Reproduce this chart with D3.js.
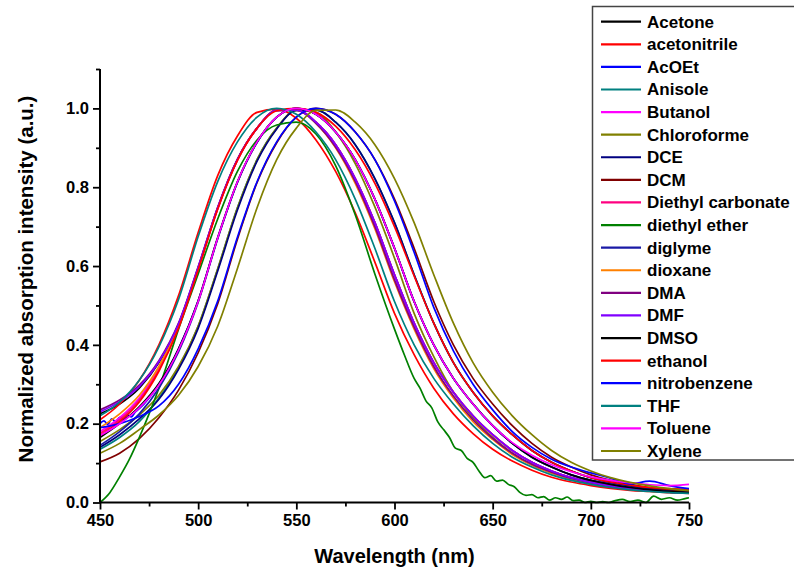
<!DOCTYPE html>
<html><head><meta charset="utf-8">
<script src="https://cdn.jsdelivr.net/npm/d3@7"></script>
<style>
html,body{margin:0;padding:0;background:#fff;}
svg{display:block;font-family:"Liberation Sans",Arial,sans-serif;font-weight:bold;}
</style></head>
<body><svg id="chart" width="794" height="573"></svg>
<script>
// ---------- data ----------
const wavelengths = [450,460,470,480,490,500,510,520,530,540,550,560,570,580,590,600,610,620,630,640,650,660,670,680,690,700,710,720,730,740,750];
const xTicks = [450,500,550,600,650,700,750];
const xMinorTicks = [475,525,575,625,675,725];
const yTicks = [0.0,0.2,0.4,0.6,0.8,1.0];
const yMinorTicks = [0.1,0.3,0.5,0.7,0.9,1.1];
const seriesNames = ["Acetone","acetonitrile","AcOEt","Anisole","Butanol","Chloroforme","DCE","DCM","Diethyl carbonate","diethyl ether","diglyme","dioxane","DMA","DMF","DMSO","ethanol","nitrobenzene","THF","Toluene","Xylene"];
const seriesColors = ["#000000","#FF0000","#0000FF","#008080","#FF00FF","#808000","#000080","#800000","#FF0080","#008000","#1A1AA6","#FF8000","#800080","#8000FF","#000000","#FF0000","#0000FF","#008080","#FF00FF","#808000"];

const acetone = [0.225,0.25,0.29,0.355,0.452,0.595,0.748,0.87,0.95,0.995,0.996,0.965,0.908,0.822,0.71,0.578,0.455,0.355,0.28,0.22,0.172,0.132,0.102,0.08,0.063,0.051,0.042,0.035,0.030,0.026,0.024];
const acetonitrile = [0.21,0.25,0.31,0.40,0.525,0.685,0.83,0.93,0.99,0.998,0.975,0.92,0.84,0.735,0.61,0.48,0.375,0.29,0.225,0.175,0.135,0.105,0.082,0.064,0.052,0.043,0.036,0.031,0.028,0.025,0.023];
const acoetWl = [450,452,454,456,458,460,462,464,466,468,470,480,490,500,510,520,530,540,550,560,570,580,590,600,610,620,630,640,650,660,670,680,690,700,710,720,730,740,750];
const acoet = [0.2,0.207,0.198,0.212,0.205,0.216,0.21,0.222,0.217,0.23,0.238,0.30,0.39,0.512,0.672,0.813,0.914,0.978,1.0,0.985,0.94,0.87,0.77,0.645,0.51,0.40,0.315,0.25,0.195,0.15,0.115,0.09,0.07,0.056,0.046,0.038,0.032,0.028,0.025];
const anisole = [0.135,0.165,0.205,0.265,0.342,0.447,0.593,0.748,0.87,0.95,0.995,0.996,0.965,0.908,0.822,0.71,0.578,0.455,0.355,0.28,0.22,0.172,0.132,0.102,0.08,0.063,0.051,0.042,0.035,0.03,0.026];
const butanol = [0.18,0.215,0.265,0.342,0.447,0.593,0.747,0.87,0.95,0.995,0.996,0.965,0.908,0.822,0.71,0.578,0.455,0.355,0.28,0.22,0.172,0.132,0.102,0.08,0.063,0.051,0.042,0.036,0.031,0.028,0.026];
const chloroforme = [0.155,0.185,0.222,0.272,0.345,0.448,0.594,0.748,0.87,0.95,0.995,0.99,0.94,0.86,0.75,0.62,0.48,0.37,0.28,0.215,0.165,0.125,0.095,0.075,0.06,0.048,0.04,0.034,0.03,0.027,0.025];
const dce = [0.14,0.172,0.212,0.262,0.338,0.442,0.588,0.742,0.866,0.948,0.995,0.996,0.965,0.908,0.822,0.71,0.578,0.455,0.355,0.28,0.22,0.172,0.132,0.102,0.08,0.063,0.051,0.042,0.035,0.03,0.026];
const dcm = [0.103,0.125,0.162,0.215,0.285,0.38,0.505,0.668,0.812,0.913,0.978,1.0,0.985,0.94,0.87,0.77,0.645,0.51,0.40,0.315,0.25,0.195,0.15,0.115,0.09,0.07,0.056,0.046,0.038,0.032,0.028];
const diethylCarbonate = [0.175,0.21,0.26,0.338,0.445,0.592,0.746,0.869,0.95,0.995,0.996,0.965,0.908,0.822,0.71,0.578,0.455,0.355,0.28,0.22,0.172,0.132,0.102,0.08,0.063,0.051,0.042,0.035,0.030,0.026,0.024];
const etherWl = [450,455,460,465,470,475,480,490,500,510,520,530,540,550,560,570,580,590,600,605,610,613,616,619,622,625,628,631,634,637,640,643,646,649,652,655,658,661,664,667,670,673,676,679,682,685,688,691,694,697,700,703,706,709,712,716,720,724,728,732,736,740,744,748,750];
const diethylEther = [0,0.025,0.065,0.11,0.165,0.225,0.29,0.44,0.58,0.72,0.84,0.92,0.958,0.965,0.935,0.855,0.73,0.58,0.44,0.375,0.315,0.29,0.258,0.24,0.205,0.185,0.165,0.138,0.132,0.112,0.102,0.08,0.063,0.068,0.054,0.057,0.046,0.04,0.025,0.018,0.02,0.012,0.015,0.006,0.012,0.008,0.014,0.005,0.006,0.0,0.003,0.0,0.002,0.0,0.004,0.008,0.002,0.006,0.0,0.016,0.008,0.012,0.006,0.01,0.012];
const diglyme = [0.145,0.18,0.225,0.29,0.382,0.508,0.67,0.812,0.914,0.978,1.0,0.985,0.94,0.87,0.77,0.645,0.51,0.40,0.315,0.25,0.195,0.15,0.115,0.09,0.07,0.056,0.046,0.038,0.032,0.028,0.025];
const dioxane = [0.19,0.225,0.272,0.345,0.448,0.594,0.748,0.87,0.95,0.995,0.996,0.962,0.9,0.81,0.695,0.56,0.44,0.34,0.265,0.205,0.16,0.122,0.095,0.075,0.06,0.048,0.04,0.034,0.029,0.026,0.024];
const dma = [0.235,0.26,0.298,0.36,0.455,0.598,0.75,0.871,0.95,0.995,0.996,0.962,0.902,0.815,0.70,0.565,0.445,0.345,0.27,0.21,0.163,0.125,0.097,0.077,0.061,0.05,0.041,0.035,0.03,0.026,0.024];
const dmf = [0.23,0.256,0.294,0.357,0.453,0.597,0.749,0.87,0.95,0.995,0.996,0.965,0.908,0.822,0.71,0.578,0.455,0.355,0.28,0.22,0.172,0.132,0.102,0.08,0.063,0.051,0.042,0.035,0.030,0.026,0.024];
const dmso = [0.165,0.2,0.243,0.302,0.39,0.512,0.673,0.814,0.915,0.978,1.0,0.985,0.94,0.87,0.77,0.645,0.51,0.40,0.315,0.25,0.195,0.15,0.115,0.09,0.07,0.056,0.046,0.038,0.032,0.028,0.025];
const ethanol = [0.17,0.205,0.255,0.333,0.442,0.59,0.745,0.868,0.95,0.994,1.0,0.99,0.955,0.895,0.81,0.70,0.575,0.455,0.355,0.28,0.22,0.172,0.132,0.102,0.08,0.063,0.052,0.044,0.038,0.035,0.033];
const nitrobenzene = [0.19,0.2,0.218,0.245,0.3,0.39,0.512,0.673,0.814,0.915,0.978,1.0,0.985,0.94,0.87,0.765,0.635,0.495,0.385,0.30,0.235,0.18,0.14,0.11,0.09,0.075,0.062,0.047,0.054,0.043,0.035];
const thf = [0.22,0.255,0.31,0.395,0.515,0.675,0.815,0.915,0.978,1.0,0.985,0.94,0.87,0.77,0.645,0.51,0.40,0.315,0.25,0.195,0.15,0.115,0.09,0.07,0.056,0.046,0.038,0.032,0.028,0.025,0.023];
const toluene = [0.17,0.2,0.24,0.298,0.387,0.51,0.672,0.814,0.915,0.978,1.0,0.985,0.94,0.87,0.77,0.645,0.51,0.40,0.315,0.25,0.195,0.152,0.12,0.096,0.078,0.065,0.056,0.05,0.045,0.043,0.046];
const xylene = [0.125,0.15,0.185,0.222,0.272,0.345,0.448,0.594,0.748,0.87,0.95,0.995,0.996,0.965,0.908,0.822,0.71,0.578,0.455,0.355,0.28,0.22,0.172,0.132,0.102,0.08,0.063,0.051,0.042,0.035,0.03];

const seriesValues = [acetone,acetonitrile,acoet,anisole,butanol,chloroforme,dce,dcm,diethylCarbonate,diethylEther,diglyme,dioxane,dma,dmf,dmso,ethanol,nitrobenzene,thf,toluene,xylene];
const seriesWl = {2: acoetWl, 9: etherWl};

// ---------- drawing ----------
const svg = d3.select("#chart");
const x = d3.scaleLinear().domain([450,750]).range([100,689]);
const y = d3.scaleLinear().domain([0,1.1]).range([502.5,69]);

const line = d3.line().x(d=>x(d[0])).y(d=>y(d[1])).curve(d3.curveMonotoneX);
const gLines = svg.append("g");
seriesValues.forEach((vals,i)=>{
  const wl = seriesWl[i] || wavelengths;
  const pts = vals.map((v,j)=>[wl[j],v]).filter(p=>p[0]!==undefined);
  gLines.append("path").attr("d",line(pts)).attr("fill","none")
    .attr("stroke",seriesColors[i]).attr("stroke-width",1.7).attr("stroke-linejoin","round");
});

// axes
const xAxis = d3.axisBottom(x).tickValues(xTicks).tickFormat(d3.format("d")).tickSize(7).tickPadding(5);
const gx = svg.append("g").attr("transform","translate(0,502.5)").call(xAxis);
const xMinor = d3.axisBottom(x).tickValues(xMinorTicks).tickFormat("").tickSize(4);
svg.append("g").attr("transform","translate(0,502.5)").call(xMinor).call(g=>g.select(".domain").remove());

const yAxis = d3.axisLeft(y).tickValues(yTicks).tickFormat(d3.format(".1f")).tickSize(7).tickPadding(4);
const gy = svg.append("g").attr("transform","translate(100,0)").call(yAxis);
const yMinor = d3.axisLeft(y).tickValues(yMinorTicks).tickFormat("").tickSize(4);
svg.append("g").attr("transform","translate(100,0)").call(yMinor).call(g=>g.select(".domain").remove());

svg.selectAll(".domain").attr("stroke","#000").attr("stroke-width",2);
gx.select(".domain").attr("d","M100,0H689");
gy.select(".domain").attr("d","M0,502.5V69");
svg.selectAll(".tick line").attr("stroke","#000").attr("stroke-width",1.8);
svg.selectAll(".tick text").attr("font-size",16.5).attr("font-weight","bold").attr("fill","#000")
  .attr("font-family","'Liberation Sans',Arial,sans-serif");

// axis titles
svg.append("text").attr("x",394.5).attr("y",563).attr("text-anchor","middle")
  .attr("font-size",20).text("Wavelength (nm)");
svg.append("text").attr("transform","translate(33,279) rotate(-90)").attr("text-anchor","middle")
  .attr("font-size",20.5).text("Normalized absorption intensity (a.u.)");

// legend
const legend = svg.append("g");
legend.append("rect").attr("x",592.5).attr("y",6.5).attr("width",220).attr("height",453.5)
  .attr("fill","#fff").attr("stroke","#444").attr("stroke-width",1.5);
const ly = d3.scaleLinear().domain([0,19]).range([21.7,451]);
seriesNames.forEach((n,i)=>{
  legend.append("line").attr("x1",601).attr("x2",641).attr("y1",ly(i)).attr("y2",ly(i))
    .attr("stroke",seriesColors[i]).attr("stroke-width",2.2);
  legend.append("text").attr("x",647).attr("y",ly(i)+6).attr("font-size",17).text(n);
});
</script></body></html>
